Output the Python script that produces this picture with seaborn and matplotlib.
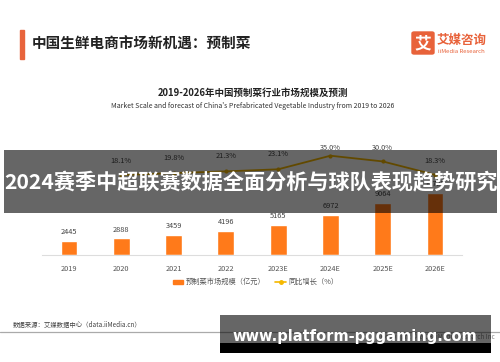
import matplotlib
matplotlib.use("Agg")
import matplotlib.pyplot as plt
from matplotlib.patches import Rectangle, FancyBboxPatch
from matplotlib.lines import Line2D
import numpy as np
import pandas as pd
import seaborn as sns

# ---------------- data ----------------
years = ["2019", "2020", "2021", "2022", "2023E", "2024E", "2025E", "2026E"]
market_size = [2445, 2888, 3459, 4196, 5165, 6972, 9064, 10723]
growth_years = ["2020", "2021", "2022", "2023E", "2024E", "2025E", "2026E"]
growth_pct = [18.1, 19.8, 21.3, 23.1, 35.0, 30.0, 18.3]

page_title = "中国生鲜电商市场新机遇：预制菜"
chart_title = "2019-2026年中国预制菜行业市场规模及预测"
chart_subtitle = "Market Scale and forecast of China's Prefabricated Vegetable Industry from 2019 to 2026"
legend_bar = "预制菜市场规模（亿元）"
legend_line = "同比增长（%）"
source_text = "数据来源：艾媒数据中心（data.iiMedia.cn）"
banner_text = "2024赛季中超联赛数据全面分析与球队表现趋势研究"
site_text = "www.platform-pggaming.com"

BAR_C = "#FF7A1A"
LINE_C = "#F5B800"
LOGO_C = "#E8623A"

sns.set_style("white")
plt.rcParams['font.family'] = ['Noto Sans CJK SC', 'DejaVu Sans']

W, H = 500, 362
fig = plt.figure(figsize=(W / 100, H / 100), dpi=100)
fig.patch.set_facecolor("white")


def fx(px):
    return px / W


def fy(py):
    return 1 - py / H


# ---------------- chart ----------------
ax = fig.add_axes([fx(42), fy(255), fx(420), 105 / H])
df = pd.DataFrame({"year": years, "size": market_size})
sns.barplot(data=df, x="year", y="size", color=BAR_C, width=0.32,
            saturation=1, ax=ax)
ax.set_xlim(-0.516, 7.516)
ax.set_ylim(0, 18260)
for i, v in enumerate(market_size):
    ax.annotate(str(v), (i, v), xytext=(0, 3.5), textcoords="offset points",
                ha="center", va="bottom", fontsize=5.3, color="#444444")
ax.set_xlabel("")
ax.set_ylabel("")
ax.set_yticks([])
ax.set_xticks(range(len(years)))
ax.set_xticklabels(years, fontsize=5.3, color="#555555")
ax.tick_params(axis="x", length=0, pad=7)
for s in ["top", "right", "left"]:
    ax.spines[s].set_visible(False)
ax.spines["bottom"].set_color("#dddddd")
ax.spines["bottom"].set_linewidth(0.8)
ax.patch.set_alpha(0)

ax2 = ax.twinx()
gx = [years.index(g) for g in growth_years]
sns.lineplot(x=gx, y=growth_pct, color=LINE_C, linewidth=1.3, marker="o",
             markersize=3, markeredgewidth=0, ax=ax2)
ax2.set_ylim(-51.9, 40)
ax2.set_xlim(-0.516, 7.516)
ax2.set_yticks([])
ax2.set_ylabel("")
for s in ["top", "right", "left", "bottom"]:
    ax2.spines[s].set_visible(False)
label_offsets = [10, 11, 11.5, 11.5, 3.5, 9.5, 10]
for x, v, off in zip(gx, growth_pct, label_offsets):
    ax2.annotate(f"{v:.1f}%", (x, v), xytext=(0, off * 0.72),
                 textcoords="offset points", ha="center", va="bottom",
                 fontsize=5.3, color="#444444")

# legend
fig.add_artist(Rectangle((fx(173), fy(284)), fx(10), 4.5 / H,
                         color=BAR_C, transform=fig.transFigure))
fig.text(fx(186), fy(282), legend_bar, fontsize=5.2, color="#555555",
         va="center", ha="left")
fig.add_artist(Line2D([fx(275), fx(286)], [fy(282), fy(282)],
                      color=LINE_C, linewidth=1.2, transform=fig.transFigure))
fig.add_artist(Line2D([fx(280.5)], [fy(282)], marker="o", markersize=2.5,
                      color=LINE_C, transform=fig.transFigure))
fig.text(fx(288), fy(282), legend_line, fontsize=5.2, color="#555555",
         va="center", ha="left")

# ---------------- page header ----------------
fig.add_artist(Rectangle((fx(20), fy(59)), fx(4), 29 / H,
                         color="#E8643C", transform=fig.transFigure))
fig.text(fx(32), fy(44), page_title, fontsize=10.5, fontweight="bold",
         color="#222222", va="center", ha="left")
fig.add_artist(FancyBboxPatch((fx(412), fy(54)), fx(22), 22 / H,
                              boxstyle="round,pad=0,rounding_size=0.004",
                              color=LOGO_C, transform=fig.transFigure))
fig.text(fx(423), fy(43), "艾", fontsize=12, fontweight="bold",
         color="white", va="center", ha="center")
fig.text(fx(437), fy(40.5), "艾媒咨询", fontsize=9, fontweight="bold",
         color=LOGO_C, va="center", ha="left")
fig.text(fx(438), fy(51.5), "iiMedia Research", fontsize=4.3,
         color=LOGO_C, va="center", ha="left")

fig.text(fx(252.5), fy(92.5), chart_title, fontsize=6.8, fontweight="bold",
         color="#222222", va="center", ha="center")
fig.text(fx(252.5), fy(106), chart_subtitle, fontsize=5.0,
         color="#333333", va="center", ha="center")

# ---------------- footer ----------------
fig.text(fx(13), fy(324.5), source_text, fontsize=4.6, color="#444444",
         va="center", ha="left")
fig.add_artist(Line2D([0, 1], [fy(331.7), fy(331.7)], color="#aaaaaa",
                      linewidth=0.9, transform=fig.transFigure))
fig.text(fx(495), fy(337), "Copyright © 2023 iiMedia Research Inc",
         fontsize=4.6, color="#888888", va="center", ha="right")

# ---------------- overlays ----------------
fig.add_artist(Rectangle((fx(4), fy(212.7)), fx(493), 62.7 / H,
                         color="black", alpha=0.6, linewidth=0,
                         transform=fig.transFigure, zorder=10))
fig.text(fx(251), fy(182.5), banner_text, fontsize=15.2, fontweight="bold",
         color="white", va="center", ha="center", zorder=11)

fig.add_artist(Rectangle((fx(220), fy(343)), fx(271), 28 / H,
                         color="black", alpha=0.6, linewidth=0,
                         transform=fig.transFigure, zorder=10))
fig.add_artist(Rectangle((fx(220), fy(353)), fx(271), 10 / H,
                         color="black", linewidth=0,
                         transform=fig.transFigure, zorder=10))
fig.text(fx(355), fy(336.5), site_text, fontsize=10.5, fontweight="bold",
         family="DejaVu Sans", color="white", va="center", ha="center",
         zorder=11)

fig.savefig("out.png", dpi=100)
